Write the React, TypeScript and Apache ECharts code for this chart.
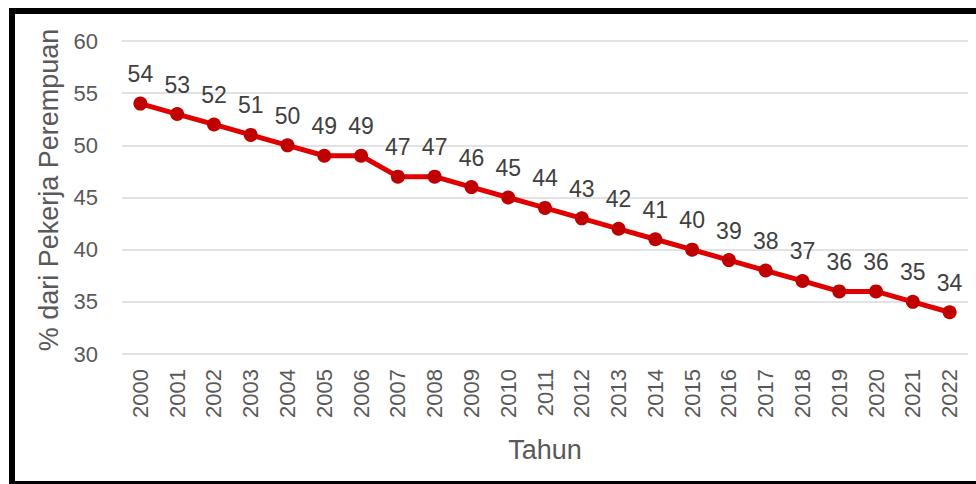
import React, { useEffect, useRef } from "react";
import * as echarts from "echarts";

// Tahun (categories) and share of female workers (%)
const years = [
  "2000", "2001", "2002", "2003", "2004", "2005", "2006", "2007", "2008", "2009", "2010", "2011",
  "2012", "2013", "2014", "2015", "2016", "2017", "2018", "2019", "2020", "2021", "2022",
];
const shares = [54, 53, 52, 51, 50, 49, 49, 47, 47, 46, 45, 44, 43, 42, 41, 40, 39, 38, 37, 36, 36, 35, 34];

const yMin = 30;
const yMax = 60;
const yStep = 5;

const FONT = "'Liberation Sans', Arial, sans-serif";

export default function App() {
  const ref = useRef<HTMLDivElement>(null);

  useEffect(() => {
    if (!ref.current) return;
    const chart = echarts.init(ref.current, null, { renderer: "svg" });
    chart.setOption({
      animation: false,
      backgroundColor: "#ffffff",
      textStyle: { fontFamily: FONT },
      grid: { left: 122, right: 8, top: 41, bottom: 130, containLabel: false },
      graphic: [
        { type: "rect", shape: { x: 9, y: 8, width: 967, height: 6 }, style: { fill: "#000" }, z: 100 },
        { type: "rect", shape: { x: 9, y: 8, width: 6, height: 476 }, style: { fill: "#000" }, z: 100 },
        { type: "rect", shape: { x: 9, y: 481, width: 967, height: 3 }, style: { fill: "#000" }, z: 100 },
        {
          type: "text",
          x: 49,
          y: 190,
          rotation: Math.PI / 2,
          style: {
            text: "% dari Pekerja Perempuan",
            fill: "#595959",
            fontSize: 27,
            fontFamily: FONT,
            align: "center",
            verticalAlign: "middle",
          },
        },
      ],
      xAxis: {
        type: "category",
        data: years,
        boundaryGap: true,
        axisLine: { show: false },
        axisTick: { show: false },
        axisLabel: {
          rotate: 90,
          margin: 15,
          color: "#595959",
          fontSize: 22,
          fontFamily: FONT,
        },
        name: "Tahun",
        nameLocation: "middle",
        nameGap: 82,
        nameTextStyle: { color: "#595959", fontSize: 27, fontFamily: FONT, verticalAlign: "top" },
      },
      yAxis: {
        type: "value",
        min: yMin,
        max: yMax,
        interval: yStep,
        axisLine: { show: false },
        axisTick: { show: false },
        axisLabel: { margin: 24, color: "#595959", fontSize: 22, fontFamily: FONT },
        splitLine: { lineStyle: { color: "#d9d9d9", width: 1.5 } },
      },
      series: [
        {
          type: "line",
          data: shares,
          symbol: "circle",
          symbolSize: 14,
          lineStyle: { color: "#e00000", width: 5 },
          itemStyle: { color: "#c00000" },
          label: {
            show: true,
            position: "top",
            distance: 11,
            color: "#404040",
            fontSize: 23,
            fontFamily: FONT,
          },
        },
      ],
    });
    return () => chart.dispose();
  }, []);

  return (
    <div
      ref={ref}
      style={{ position: "absolute", left: 0, top: 0, width: 976, height: 484 }}
    />
  );
}
